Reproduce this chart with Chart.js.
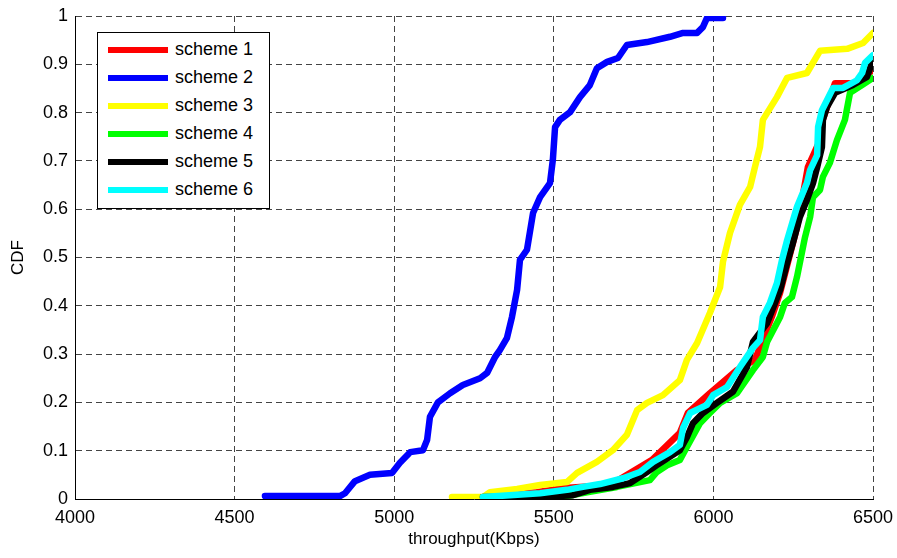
<!DOCTYPE html>
<html lang="en">
<head>
  <meta charset="UTF-8" />
  <title>Throughput CDF</title>
  <script src="https://cdn.jsdelivr.net/npm/chart.js"></script>
  <style>
    body {
      margin: 0;
      background: #fff;
      font-family: "Liberation Sans", Arial, sans-serif;
    }
    #wrap {
      position: relative;
      width: 897px;
      height: 558px;
    }
    #legend {
      position: absolute;
      left: 97px;
      top: 32px;
      width: 171px;
      height: 173px;
      border: 1px solid #000;
      background: #fff;
      padding-top: 2px;
      box-sizing: content-box;
    }
    .row {
      height: 28px;
      line-height: 28px;
      font-size: 18px;
      color: #000;
      white-space: nowrap;
    }
    .sw {
      display: inline-block;
      width: 60px;
      height: 6px;
      margin-left: 10px;
      margin-right: 7px;
      vertical-align: middle;
    }
  </style>
</head>
<body>
  <div id="wrap">
    <canvas id="cdfChart" width="897" height="558"></canvas>
    <div id="legend"></div>
  </div>

  <script>
    const schemeNames = ['scheme 1', 'scheme 2', 'scheme 3', 'scheme 4', 'scheme 5', 'scheme 6'];
    const schemeColors = ['#ff0000', '#0000ff', '#ffff00', '#00ff00', '#000000', '#00ffff'];

    const xTicks = [4000, 4500, 5000, 5500, 6000, 6500];
    const yTicks = [0, 0.1, 0.2, 0.3, 0.4, 0.5, 0.6, 0.7, 0.8, 0.9, 1];

    // throughput (Kbps) / CDF pairs
    const s1Tput = [5200, 5278, 5447, 5535, 5676, 5808, 5895, 5920, 5989, 6074, 6130, 6183, 6209, 6262, 6296, 6334, 6343, 6381, 6444, 6500];
    const s1Cdf  = [0.002, 0.004, 0.014, 0.023, 0.029, 0.081, 0.137, 0.178, 0.219, 0.267, 0.288, 0.377, 0.427, 0.563, 0.687, 0.743, 0.785, 0.861, 0.861, 0.888];

    const s2Tput = [4595, 4830, 4846, 4877, 4924, 4993, 5018, 5050, 5090, 5103, 5112, 5137, 5175, 5215, 5269, 5291, 5316, 5331, 5353, 5369, 5385, 5394, 5416, 5435, 5457, 5488, 5497, 5504, 5519, 5551, 5582, 5613, 5635, 5667, 5701, 5729, 5792, 5864, 5905, 5949, 5967, 5980, 6030];
    const s2Cdf  = [0.006, 0.006, 0.012, 0.037, 0.05, 0.054, 0.075, 0.097, 0.101, 0.122, 0.17, 0.2, 0.219, 0.236, 0.25, 0.261, 0.294, 0.308, 0.333, 0.377, 0.433, 0.495, 0.516, 0.592, 0.625, 0.654, 0.702, 0.77, 0.785, 0.801, 0.832, 0.857, 0.892, 0.905, 0.913, 0.94, 0.946, 0.957, 0.965, 0.965, 0.977, 0.996, 0.996];

    const s3Tput = [5181, 5278, 5300, 5385, 5457, 5541, 5573, 5635, 5685, 5729, 5761, 5792, 5842, 5895, 5917, 5949, 5989, 6021, 6030, 6052, 6083, 6115, 6130, 6146, 6155, 6199, 6231, 6293, 6334, 6419, 6469, 6500];
    const s3Cdf  = [0.004, 0.004, 0.014, 0.021, 0.029, 0.035, 0.054, 0.077, 0.101, 0.133, 0.184, 0.199, 0.215, 0.246, 0.288, 0.323, 0.385, 0.439, 0.491, 0.551, 0.609, 0.646, 0.687, 0.729, 0.785, 0.832, 0.872, 0.882, 0.928, 0.932, 0.944, 0.965];

    const s4Tput = [5341, 5457, 5541, 5604, 5698, 5801, 5823, 5855, 5895, 5917, 5958, 5989, 6021, 6074, 6124, 6155, 6168, 6209, 6224, 6246, 6262, 6287, 6303, 6312, 6334, 6343, 6365, 6387, 6412, 6428, 6466, 6500];
    const s4Cdf  = [0.002, 0.004, 0.006, 0.014, 0.025, 0.039, 0.056, 0.07, 0.081, 0.108, 0.157, 0.178, 0.199, 0.219, 0.267, 0.294, 0.325, 0.377, 0.406, 0.418, 0.46, 0.542, 0.584, 0.625, 0.64, 0.667, 0.696, 0.743, 0.785, 0.841, 0.857, 0.872];

    const s5Tput = [5278, 5466, 5560, 5613, 5685, 5739, 5792, 5823, 5895, 5917, 5936, 5967, 6011, 6061, 6105, 6124, 6168, 6209, 6231, 6249, 6271, 6293, 6312, 6325, 6340, 6343, 6356, 6381, 6437, 6481, 6500];
    const s5Cdf  = [0.004, 0.004, 0.008, 0.019, 0.025, 0.033, 0.056, 0.07, 0.101, 0.128, 0.157, 0.178, 0.199, 0.222, 0.273, 0.325, 0.364, 0.433, 0.489, 0.53, 0.584, 0.619, 0.654, 0.687, 0.729, 0.785, 0.812, 0.841, 0.857, 0.874, 0.909];

    const s6Tput = [5278, 5457, 5541, 5591, 5645, 5717, 5770, 5811, 5864, 5895, 5905, 5927, 5980, 5999, 6043, 6083, 6124, 6146, 6155, 6177, 6199, 6215, 6231, 6262, 6293, 6303, 6325, 6328, 6340, 6375, 6406, 6450, 6466, 6475, 6500];
    const s6Cdf  = [0.004, 0.012, 0.019, 0.025, 0.031, 0.043, 0.056, 0.077, 0.097, 0.112, 0.147, 0.178, 0.195, 0.215, 0.232, 0.273, 0.313, 0.329, 0.377, 0.406, 0.447, 0.495, 0.536, 0.605, 0.654, 0.681, 0.712, 0.77, 0.805, 0.851, 0.851, 0.867, 0.882, 0.903, 0.919];

    const allTput = [s1Tput, s2Tput, s3Tput, s4Tput, s5Tput, s6Tput];
    const allCdf = [s1Cdf, s2Cdf, s3Cdf, s4Cdf, s5Cdf, s6Cdf];

    const tickFont = { family: '"Liberation Sans", Arial, sans-serif', size: 18 };

    const datasets = schemeNames.map((name, i) => ({
      label: name,
      data: allTput[i].map((x, j) => ({ x: x, y: allCdf[i][j] })),
      borderColor: schemeColors[i],
      backgroundColor: schemeColors[i],
      borderWidth: 6.5,
      pointRadius: 0,
      tension: 0,
      fill: false,
      borderJoinStyle: 'round',
      borderCapStyle: 'round',
      order: schemeNames.length - i  // last scheme ends up on top
    }));

    const ctx = document.getElementById('cdfChart').getContext('2d');
    const cdfChart = new Chart(ctx, {
      type: 'line',
      data: { datasets: datasets },
      options: {
        responsive: false,
        animation: false,
        layout: { padding: { top: 16, right: 24, left: 0, bottom: 0 } },
        plugins: {
          legend: { display: false },
          tooltip: { enabled: false }
        },
        scales: {
          x: {
            type: 'linear',
            min: xTicks[0],
            max: xTicks[xTicks.length - 1],
            afterBuildTicks: s => { s.ticks = xTicks.map(v => ({ value: v })); },
            afterFit: s => { s.height = 59; s.paddingRight = 0; s.paddingLeft = 0; },
            grid: { color: '#444', drawTicks: false },
            border: { display: true, color: '#000', width: 1, dash: [6, 4] },
            ticks: {
              color: '#000', font: tickFont, padding: 8, maxRotation: 0,
              callback: v => String(v)
            },
            title: {
              display: true, text: 'throughput(Kbps)', color: '#000',
              font: { family: tickFont.family, size: 17 }, padding: { bottom: 8, top: 0 }
            }
          },
          y: {
            type: 'linear',
            min: 0,
            max: 1,
            afterBuildTicks: s => { s.ticks = yTicks.map(v => ({ value: v })); },
            afterFit: s => { s.width = 75; s.paddingTop = 0; s.paddingBottom = 0; },
            grid: { color: '#444', drawTicks: false },
            border: { display: true, color: '#000', width: 1, dash: [6, 4] },
            ticks: {
              color: '#000', font: tickFont, padding: 7,
              callback: v => (v === 0 || v === 1) ? String(v) : v.toFixed(1)
            },
            title: {
              display: true, text: 'CDF', color: '#000',
              font: { family: tickFont.family, size: 17 }, padding: { top: 8, bottom: 0 }
            }
          }
        }
      }
    });

    // legend box sitting inside the plot, like the original figure
    const legendBox = document.getElementById('legend');
    schemeNames.forEach((name, i) => {
      const row = document.createElement('div');
      row.className = 'row';
      const sw = document.createElement('span');
      sw.className = 'sw';
      sw.style.background = schemeColors[i];
      row.appendChild(sw);
      row.appendChild(document.createTextNode(name));
      legendBox.appendChild(row);
    });
  </script>
</body>
</html>
